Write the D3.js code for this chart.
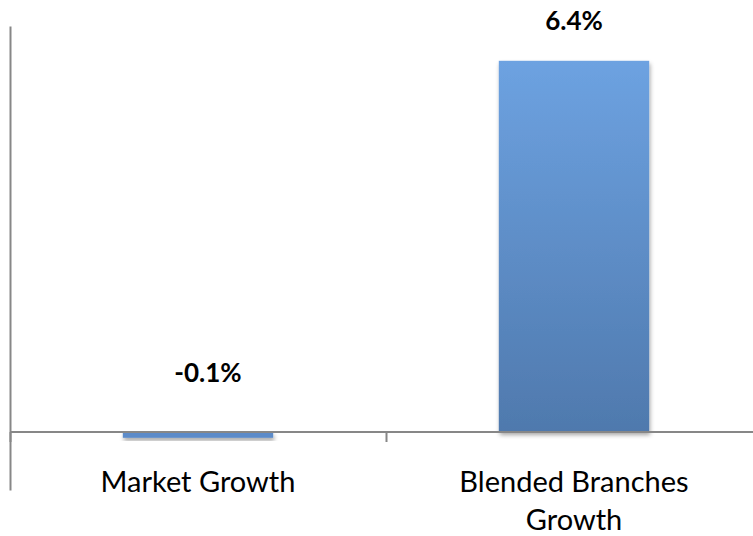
<!DOCTYPE html>
<html>
<head>
<meta charset="utf-8">
<script src="https://cdn.jsdelivr.net/npm/d3@7"></script>
<style>
  html, body { margin: 0; padding: 0; background: #ffffff; }
  svg { display: block; }
</style>
</head>
<body>
<svg id="chart" width="753" height="536"></svg>
<script>
// Growth comparison data
const categories = ["Market Growth", "Blended Branches Growth"];
const categoryLines = [["Market Growth"], ["Blended Branches", "Growth"]];
const growthValues = [-0.1, 6.4];
const valueLabels = ["-0.1%", "6.4%"];

const svg = d3.select("#chart");
const W = 753, H = 536;

const x = d3.scaleBand()
  .domain(categories)
  .range([10, 762])
  .paddingInner(0.6)
  .paddingOuter(0.3);

const y = d3.scaleLinear()
  .domain([-1, 7])
  .range([490, 26]);

const defs = svg.append("defs");
const grad = defs.append("linearGradient")
  .attr("id", "barFill")
  .attr("x1", 0).attr("y1", 0).attr("x2", 0).attr("y2", 1);
grad.append("stop").attr("offset", "0%").attr("stop-color", "#6da2e1");
grad.append("stop").attr("offset", "100%").attr("stop-color", "#4f79ad");

const shadow = defs.append("filter")
  .attr("id", "barShadow")
  .attr("x", "-10%").attr("y", "-10%")
  .attr("width", "130%").attr("height", "150%");
shadow.append("feDropShadow")
  .attr("dx", 1).attr("dy", 3)
  .attr("stdDeviation", 2.2)
  .attr("flood-color", "#000")
  .attr("flood-opacity", 0.35);

// Bars
svg.append("g").selectAll("rect")
  .data(categories)
  .join("rect")
  .attr("x", d => x(d))
  .attr("width", x.bandwidth())
  .attr("y", (d, i) => y(Math.max(0, growthValues[i])))
  .attr("height", (d, i) => Math.abs(y(growthValues[i]) - y(0)))
  .attr("fill", (d, i) => growthValues[i] < 0 ? "#5b8bc9" : "url(#barFill)")
  .attr("filter", "url(#barShadow)");

// Vertical axis line (no ticks or labels)
const yAxis = d3.axisLeft(y).tickValues([]).tickSizeOuter(0);
svg.append("g")
  .attr("transform", "translate(10,0)")
  .call(yAxis)
  .call(g => g.select(".domain").attr("stroke", "#878787").attr("stroke-width", 2));

// Horizontal category axis at zero with boundary tick marks
const step = x.step();
const boundaries = [x.range()[0], x.range()[0] + step];
svg.append("line")
  .attr("x1", 10).attr("x2", W)
  .attr("y1", y(0)).attr("y2", y(0))
  .attr("stroke", "#878787").attr("stroke-width", 2);
svg.append("g").selectAll("line")
  .data(boundaries)
  .join("line")
  .attr("x1", d => d + 0.5).attr("x2", d => d + 0.5)
  .attr("y1", y(0)).attr("y2", y(0) + 10)
  .attr("stroke", "#878787").attr("stroke-width", 2);

// Category labels
const catG = svg.append("g")
  .attr("font-family", "Lato, 'Open Sans', sans-serif")
  .attr("font-size", 29)
  .attr("fill", "#000")
  .attr("text-anchor", "middle");
categories.forEach((c, i) => {
  const cx = x(c) + x.bandwidth() / 2;
  categoryLines[i].forEach((line, j) => {
    catG.append("text")
      .attr("x", cx)
      .attr("y", y(0) + 60 + j * 38)
      .text(line);
  });
});

// Value labels
svg.append("g")
  .attr("font-family", "Lato, 'Open Sans', sans-serif")
  .attr("font-size", 26)
  .attr("font-weight", "bold")
  .attr("fill", "#000")
  .attr("text-anchor", "middle")
  .selectAll("text")
  .data(categories)
  .join("text")
  .attr("x", (d, i) => x(d) + x.bandwidth() / 2 + (growthValues[i] < 0 ? 10 : 0))
  .attr("y", (d, i) => growthValues[i] < 0 ? y(0) - 50 : y(growthValues[i]) - 31)
  .text((d, i) => valueLabels[i]);
</script>
</body>
</html>
